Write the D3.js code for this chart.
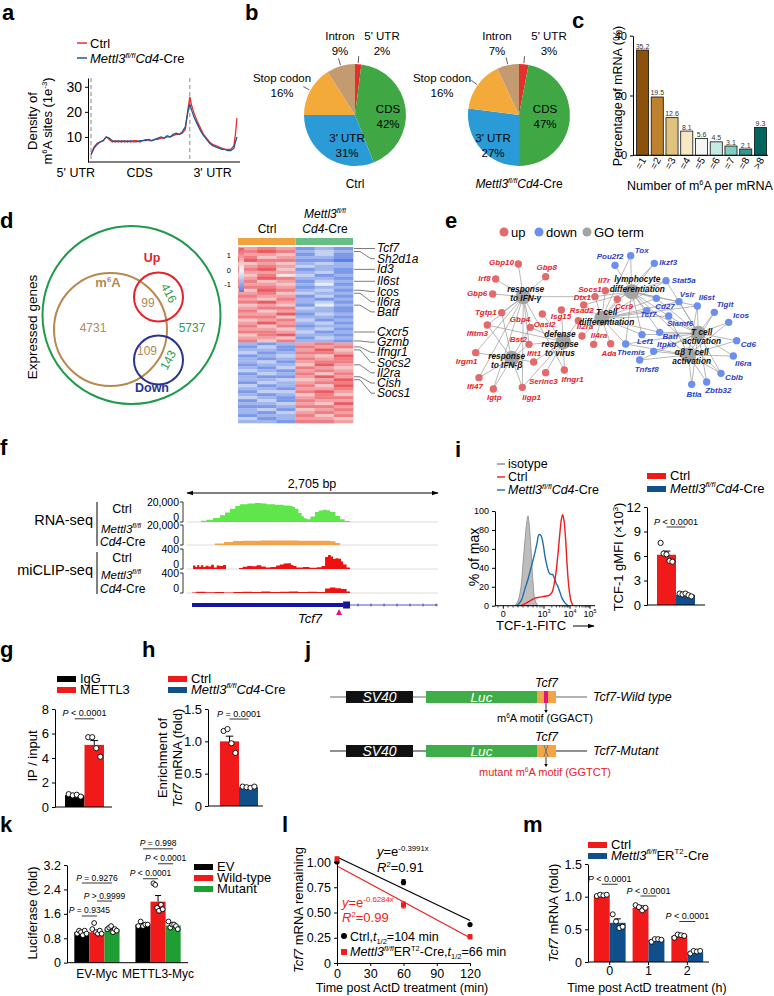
<!DOCTYPE html>
<html>
<head>
<meta charset="utf-8">
<script src="https://cdn.jsdelivr.net/npm/d3@7"></script>
<style>
  body { margin: 0; background: #fff; }
  svg { display: block; }
</style>
</head>
<body>
<script>
// ---------- data ----------
// a: metagene m6A density (1e-3), position in % of metagene
const metaPos = [2,4,6,8,10,12,14,16,18,20,22,24,26,28,30,32,34,36,38,40,42,44,46,48,50,52,54,56,58,60,62,64,66,67,68,70,72,74,76,78,80,82,84,86,88,90,92,94,96,97,98];
const densCtrl = [3,6,7.5,8,8.5,10,9,8,8.5,8,8.5,8,8.5,8,8.5,8.5,8,8.5,9,8.5,8.5,9,9,9.5,9.5,10,10,10.5,11,11,11.5,13,22,26,23,19,16,13.5,11,9.5,8,7,6.5,6,5.5,5,5,5,6.5,11,17.5];
const densKO = [3,5.5,7,8,8.5,10,9.5,8.5,8,8.5,8,8.5,8,8.5,8,8,8.5,8.5,8.5,9,8.5,9,9.5,10,9.5,10.5,10,11,11.5,11,12,14,21,23,21,17.5,15,12.5,10.5,9,7.5,6.5,6,5.5,5,5,4.5,4.5,5.5,8,10];
const metaBounds = [2, 67];
const metaRegions = ["5' UTR", "CDS", "3' UTR"];
const metaRegionAt = [-8, 34, 82];

// b: peak distribution (%)
const pieParts = ["5' UTR", "CDS", "3' UTR", "Stop codon", "Intron"];
const pieCtrl = [2, 42, 31, 16, 9];
const pieKO = [3, 47, 27, 16, 7];

// c: m6A sites per mRNA
const m6aBins = ["=1","=2","=3","=4","=5","=6","=7","=8",">8"];
const m6aPct = [35.2, 19.5, 12.6, 8.1, 5.6, 4.5, 3.1, 2.1, 9.3];

// d: venn counts and heatmap
const vennNums = ["99", "416", "4731", "5737", "109", "143"];
const hmTop = ["787121","898232","776131","867221","988110","676232","787322","896121","777231","685312","798221","867132","776241","887122","698231","786322","877131","768212","897231","676142","788321","867221","779132","886221","678312","797231","868122","776231","887312","689221","776132","868221"];
const hmBottom = ["212787","131878","221796","312887","123769","212878","231788","122697","213876","321787","132868","211797","223679","132788","312869","221778","133897","212686","321788","131877","223769","112887","231678","213787","122868","312776","221887"];
const hmCols = ["C1","C2","C3","K1","K2","K3"];
const hmGenes = ["Tcf7","Sh2d1a","Id3","Il6st","Icos","Il6ra","Batf","Cxcr5","Gzmb","Ifngr1","Socs2","Il2ra","Cish","Socs1"];
const hmGeneRow = [0,1,7,11,14,15,19,28,31,33,34,39,43,44];

// e: GO network (layout units)
const netUp = ["Gbp10","Gbp8","Irf8","Gbp6","Tgtp1","Ifitm3","Irgm1","Ifi47","Igtp","Iigp1","Serinc3","Ifngr1","Ifit1","Bst2","Gbp4","Oasl2","Isg15","Rsad2","Dtx1","Socs1","Il7r","Ccr9","Il2ra","Il4ra","Ada"];
const netUpXY = [[415,222],[497,260],[347,267],[338,312],[365,368],[322,405],[287,488],[297,563],[340,597],[427,592],[497,548],[553,540],[461,516],[447,463],[451,412],[487,372],[544,360],[595,392],[611,345],[645,320],[676,302],[712,328],[606,438],[641,463],[692,461]];
const netUpLab = [[402,226,"end"],[500,240,"middle"],[332,272,"end"],[322,318,"end"],[350,375,"end"],[292,437,"middle"],[260,522,"middle"],[285,597,"middle"],[343,630,"middle"],[455,630,"middle"],[490,583,"middle"],[578,575,"middle"],[462,498,"middle"],[415,455,"middle"],[420,397,"middle"],[494,410,"middle"],[543,387,"middle"],[605,368,"middle"],[607,330,"middle"],[630,305,"middle"],[672,278,"middle"],[732,357,"middle"],[615,417,"middle"],[657,445,"middle"],[687,497,"middle"]];
const netDown = ["Pou2f2","Tox","Ikzf3","Stat5a","Vsir","Cd27","Tcf7","Slamf6","Il6st","Tigit","Icos","Cd6","Il6ra","Cblb","Zbtb32","Btla","Tnfsf8","Themis","Lef1","Itpkb","Batf"];
const netDownXY = [[705,226],[752,197],[823,220],[858,272],[897,335],[829,325],[800,362],[866,378],[952,348],[1003,367],[1046,397],[1070,452],[1060,498],[1023,550],[980,576],[935,583],[779,510],[737,462],[786,434],[821,484],[839,427]];
const netDownLab = [[690,208,"middle"],[785,190,"middle"],[838,226,"start"],[875,278,"start"],[922,320,"middle"],[855,358,"middle"],[805,380,"middle"],[900,408,"middle"],[980,330,"middle"],[1035,350,"middle"],[1083,385,"middle"],[1105,470,"middle"],[1090,527,"middle"],[1062,570,"middle"],[1015,608,"middle"],[942,620,"middle"],[800,545,"middle"],[753,495,"middle"],[796,462,"middle"],[860,470,"middle"],[871,446,"middle"]];
const goTerms = [["response","to IFN-γ"],["response","to IFN-β"],["defense","response","to virus"],["T cell","differentiation"],["lymphocyte","differentiation"],["T cell","activation"],["αβ T cell","activation"]];
const goXY = [[430,320],[395,505],[550,455],[665,385],[755,305],[955,430],[925,495]];
const goLab = [[437,305],[380,507],[540,442],[680,376],[772,277],[965,435],[935,495]];
const goEdges = [
  ["Gbp10","Gbp8","Irf8","Gbp6","Tgtp1","Ifitm3","Gbp4","Irgm1","Igtp","Iigp1","Ifi47","Socs1","Ifngr1","Bst2"],
  ["Irgm1","Ifi47","Igtp","Iigp1","Ifit1","Bst2","Ifitm3","Tgtp1","Gbp4"],
  ["Isg15","Oasl2","Rsad2","Bst2","Ifit1","Serinc3","Ifngr1","Ifitm3","Gbp4","Iigp1"],
  ["Socs1","Dtx1","Il7r","Ccr9","Il2ra","Il4ra","Ada","Tcf7","Cd27","Lef1","Themis","Batf","Stat5a","Vsir","Slamf6","Il6st","Tox","Ikzf3"],
  ["Pou2f2","Tox","Ikzf3","Stat5a","Vsir","Cd27","Tcf7","Il7r","Socs1","Dtx1","Ccr9","Lef1","Themis","Batf","Il6st","Slamf6","Cblb"],
  ["Il6st","Tigit","Icos","Cd6","Il6ra","Cblb","Zbtb32","Btla","Vsir","Slamf6","Itpkb","Batf","Tcf7","Cd27","Lef1","Themis","Stat5a","Tnfsf8"],
  ["Btla","Zbtb32","Cblb","Il6ra","Itpkb","Tnfsf8","Slamf6","Batf","Icos","Cd6","Il6st","Tigit","Themis"]
];

// f: tracks (bp, coverage)
const rnaCtrlPos = [86,150,212,280,356,410,464,520,572,650,733,800,859,950,1040,1110,1140,1164,1200,1236,1260,1290,1330,1380,1420,1463,1500,1542,1600,1649,1700,1757];
const rnaCtrlVal = [0,1200,2300,4000,6700,9500,13300,16000,17700,18500,19000,18500,17700,17200,16500,16000,15000,13300,9000,5700,3800,2700,5500,10000,11500,12300,11800,10000,6000,2700,1000,0];
const rnaKOPos = [212,300,400,497,600,800,1000,1200,1400,1542,1600,1649];
const rnaKOVal = [0,1500,3000,4000,4300,4400,4400,4300,4200,3800,2000,0];
const clipCtrlPos = [55,65,90,110,130,150,175,200,230,260,290,320,350,388,420,560,600,650,700,750,800,850,900,960,1000,1040,1080,1120,1146,1180,1250,1320,1400,1450,1488,1520,1550,1574,1600,1630,1660,1682,1720,1757];
const clipCtrlVal = [0,70,40,80,45,75,40,65,50,85,30,70,60,80,0,20,45,60,55,75,50,30,40,70,90,110,115,80,60,30,40,25,35,60,240,280,250,200,215,205,150,90,30,0];
const clipKOPos = [55,100,200,300,400,500,600,700,800,900,1000,1100,1200,1300,1400,1488,1540,1600,1660,1720,1757];
const clipKOVal = [10,25,15,20,10,20,25,20,30,20,25,30,20,25,20,90,110,95,80,30,0];
const geneBp = [54, 1682, 1757, 2705];
const motifBp = 1639;

// i: flow histogram (axis units) and gMFI
const facsIsoX = [20,23,26,28,30,32,33,34,36,38,40,43];
const facsIsoY = [0,5,20,45,70,90,95,88,60,25,6,0];
const facsKOX = [22,26,30,33,36,39,42,44,46,48,50,52,54,56,57.5,59,61,63,65,67,70,73];
const facsKOY = [0,5,18,28,40,52,66,75,74,66,52,42,35,33,33,30,24,20,14,8,3,0];
const facsCtrlX = [26,30,35,40,45,50,54,57,59,61,63,65,66.5,67.7,69,70.5,72,74,76,78];
const facsCtrlY = [0,2,5,8,9,10,11,14,22,35,55,78,92,96,90,72,45,18,5,0];
const facsTicks = [8.3, 49, 75, 95];
const facsMinor = [3, 13, 18, 23, 28, 33, 38, 42, 45, 47, 56.8, 61.4, 64.7, 67.2, 69.2, 71, 72.5, 73.8, 81, 84.5, 87, 89, 90.6, 91.9, 93.1, 94.1];
const mfiMean = [[6.15, 1.25]];
const mfiErr = [[0.45, 0.08]];
const mfiPts = [[[7.6, 6.3, 6.2, 5.4, 5.3], [1.4, 1.3, 1.4, 1.2, 1.05]]];

// g, h
const ipMean = [[0.96, 5.07]];
const ipErr = [[0.05, 0.35]];
const ipPts = [[[1.05, 0.95, 1.0, 0.85], [5.7, 5.7, 4.8, 4.1]]];
const enrMean = [[1.0, 0.29]];
const enrErr = [[0.08, 0.01]];
const enrPts = [[[1.16, 1.19, 0.97, 0.82], [0.30, 0.29, 0.28, 0.30]]];

// j: reporter schematic (schematic units)
const jParts = ["SV40", "Luc", "Tcf7"];
const jStart = [16, 96, 207];
const jEnd = [83, 207, 226];
const jMotif = 216;

// k: luciferase
const lucGroups = ["EV-Myc", "METTL3-Myc"];
const lucSeries = ["EV", "Wild-type", "Mutant"];
const lucMean = [[1.0, 1.0, 1.1], [1.25, 2.0, 1.22]];
const lucErr = [[0.05, 0.06, 0.05], [0.04, 0.2, 0.05]];
const lucPts = [[[0.95,1.05,1.0,0.9,1.05,0.95],[1.1,1.3,1.0,0.95,1.05,0.95],[1.1,1.15,1.2,1.0,1.1,1.05]],
                [[1.2,1.35,1.2,1.25,1.25],[2.6,2.55,1.8,1.7,1.9,1.75],[1.35,1.15,1.25,1.25,1.2,1.1]]];
const lucSig = [[0, 2, 2.61, "=", "0.9276"], [1, 2, 2.02, ">", "0.9999"], [0, 1, 1.53, "=", "0.9345"],
                [0, 2, 3.73, "=", "0.998"], [1, 2, 3.24, "<", "0.0001"], [0, 1, 2.75, "<", "0.0001"]];

// l: decay
const decT = [0, 60, 120];
const decCtrl = [1.0, 0.80, 0.38];
const decCtrlErr = [0.01, 0.025, 0.01];
const decKO = [1.03, 0.575, 0.26];
const decKOErr = [0.02, 0.03, 0.02];
const fitT = [0, 120];
const fitCtrl = [1.05, 0.42];
const fitKO = [0.96, 0.25];

// m
const mHours = ["0", "1", "2"];
const mMean = [[1.02, 0.60], [0.83, 0.34], [0.40, 0.15]];
const mErr = [[0.01, 0.06], [0.03, 0.01], [0.01, 0.01]];
const mPts = [[[1.01,1.03,1.02,1.03],[0.73,0.62,0.52,0.54]],[[0.87,0.84,0.79,0.83],[0.31,0.35,0.35,0.34]],[[0.37,0.42,0.41,0.40],[0.13,0.17,0.16,0.17]]];
const mSigY = [1.19, 1.01, 0.62];

// ---------- helpers ----------
const FONT = '"Liberation Sans", Arial, Helvetica, sans-serif';
const RED = "#f01a1a", NAVY = "#0f4f8c", KGREEN = "#1e9e33";
const svg = d3.select("body").append("svg").attr("width", 774).attr("height", 996)
  .attr("font-family", FONT).style("background", "#fff");
svg.append("rect").attr("width", 774).attr("height", 996).attr("fill", "#fff");

const KO_CD4 = [{t:"Mettl3", i:1}, {t:"fl/fl", sup:1, i:1}, {t:"Cd4", i:1}, "-Cre"];
const KO_ER = [{t:"Mettl3", i:1}, {t:"fl/fl", sup:1, i:1}, "ER", {t:"T2", sup:1}, "-Cre"];

function rich(parent, x, y, segs, size, anchor, fill) {
  const t = parent.append("text").attr("x", x).attr("y", y).attr("font-size", size)
    .attr("text-anchor", anchor || "start");
  if (fill) t.attr("fill", fill);
  let shift = 0;
  segs.forEach(s => {
    if (typeof s === "string") s = {t: s};
    const target = s.sup ? -size * 0.4 : s.sub ? size * 0.25 : 0;
    const sp = t.append("tspan").text(s.t);
    if (target !== shift) { sp.attr("dy", target - shift); shift = target; }
    if (s.sup || s.sub) sp.attr("font-size", size * 0.6);
    if (s.i) sp.attr("font-style", "italic");
    if (s.b) sp.attr("font-weight", "bold");
    if (s.fill) sp.attr("fill", s.fill);
  });
  return t;
}
function vlabel(x, y, segs, size) {
  const g = svg.append("g").attr("transform", `translate(${x},${y}) rotate(-90)`);
  return rich(g, 0, 0, segs, size, "middle");
}
function letter(ch, x, y) {
  svg.append("text").attr("x", x).attr("y", y).attr("font-size", 22).attr("font-weight", "bold").text(ch);
}
function yAxis(x, scale, ticks, fmt, fs) {
  const g = svg.append("g").attr("transform", `translate(${x},0)`)
    .call(d3.axisLeft(scale).tickValues(ticks).tickFormat(fmt || (d => d)).tickSize(3).tickSizeOuter(0));
  g.attr("font-family", FONT).attr("font-size", fs || 12);
  g.selectAll("text").attr("fill", "#000");
  g.selectAll("line,path").attr("stroke", "#000");
  return g;
}
function hline(x1, x2, y, color, w) {
  return svg.append("line").attr("x1", x1).attr("x2", x2).attr("y1", y).attr("y2", y)
    .attr("stroke", color || "#000").attr("stroke-width", w || 1);
}
function legendRect(x, y, color, segs, fs) {
  svg.append("rect").attr("x", x).attr("y", y).attr("width", 19).attr("height", 6).attr("fill", color);
  rich(svg, x + 23, y + 6.5, segs, fs || 13);
}
function sig(xa, xb, y, rel, val, fs) {
  hline(xa, xb, y, "#000", 0.8);
  rich(svg, (xa + xb) / 2, y - 2.5, [{t:"P", i:1}, ` ${rel} ${val}`], fs || 9, "middle");
}
function dotBars(o) {
  const xo = d3.scaleBand().domain(o.groups).range(o.range).paddingInner(o.pi || 0).paddingOuter(o.po || 0);
  const xi = d3.scaleBand().domain(o.series).range([0, xo.bandwidth()]);
  const w = xi.bandwidth();
  const centers = [];
  o.groups.forEach((gr, gi) => {
    centers.push([]);
    o.series.forEach((s, si) => {
      const x0 = xo(gr) + xi(s), cx = x0 + w / 2, m = o.mean[gi][si], e = o.err[gi][si];
      centers[gi].push(cx);
      svg.append("rect").attr("x", x0).attr("y", o.y(m)).attr("width", w)
        .attr("height", o.y(0) - o.y(m)).attr("fill", o.colors[si]);
      svg.append("line").attr("x1", cx).attr("x2", cx).attr("y1", o.y(m)).attr("y2", o.y(m + e)).attr("stroke", "#000");
      hline(cx - w * 0.2, cx + w * 0.2, o.y(m + e));
      const p = o.pts[gi][si], n = p.length, span = w * 0.62;
      p.forEach((v, k) => {
        const off = n > 1 ? -span / 2 + span * k / (n - 1) : 0;
        svg.append("circle").attr("cx", cx + off).attr("cy", o.y(v)).attr("r", o.r || 2.6)
          .attr("fill", "#fff").attr("stroke", "#000").attr("stroke-width", 0.9);
      });
    });
  });
  return {centers, xo};
}

// ---------- a ----------
{
  letter("a", 2, 20);
  const x = d3.scaleLinear().domain([0, 100]).range([88, 240]);
  const y = d3.scaleLinear().domain([0, 33.5]).range([162, 78]);
  metaBounds.forEach(v => svg.append("line").attr("x1", x(v)).attr("x2", x(v)).attr("y1", y(33.5)).attr("y2", y(0))
    .attr("stroke", "#888").attr("stroke-dasharray", "4,3"));
  yAxis(x(0), y, [10, 20, 30], null, 14);
  hline(x(0), x(100), y(0));
  const line = d3.line().x((d, i) => x(metaPos[i])).y(d => y(d));
  svg.append("path").datum(densCtrl).attr("d", line).attr("fill", "none").attr("stroke", "#ee2b2b").attr("stroke-width", 1.3);
  svg.append("path").datum(densKO).attr("d", line).attr("fill", "none").attr("stroke", "#1d5a97").attr("stroke-width", 1.3);
  metaRegions.forEach((r, i) => svg.append("text").attr("x", x(metaRegionAt[i])).attr("y", 177)
    .attr("text-anchor", "middle").attr("font-size", 12.5).text(r));
  const gl = svg.append("g").attr("transform", "translate(37,121) rotate(-90)");
  rich(gl, 0, 0, ["Density of"], 13, "middle");
  rich(gl, 0, 15, [{t:"m"}, {t:"6", sup:1}, "A sites (1e", {t:"-3", sup:1}, ")"], 13, "middle");
  hline(77, 87, 43, "#ee2b2b", 1.5); rich(svg, 90, 48, ["Ctrl"], 13);
  hline(77, 87, 58, "#1d5a97", 1.5); rich(svg, 90, 63, KO_CD4, 13);
}

// ---------- b ----------
{
  letter("b", 245, 20);
  const R = 51;
  const pieColors = ["#e3302d", "#3fa845", "#2b9bd8", "#f4a93b", "#c49b71"];
  const offs = [[[27,-75],[33,-2],[-8,27],[-73,-33],[-15,-75]], [[30,-75],[26,-2],[-26,27],[-77,-33],[-22,-75]]];
  const arc = d3.arc().innerRadius(0).outerRadius(R);
  const pie = d3.pie().sort(null).value(d => d);
  [[pieCtrl, 355, ["Ctrl"]], [pieKO, 519, KO_CD4]].forEach(([vals, cx, cap], pi) => {
    const cy = 115;
    const g = svg.append("g").attr("transform", `translate(${cx},${cy})`);
    const arcs = pie(vals);
    g.selectAll("path").data(arcs).join("path").attr("d", arc).attr("fill", (d, i) => pieColors[i]);
    arcs.forEach((a, i) => {
      const [dx, dy] = offs[pi][i];
      rich(svg, cx + dx, cy + dy, [pieParts[i]], 11.5, "middle");
      rich(svg, cx + dx, cy + dy + 15, [vals[i] + "%"], 11.5, "middle");
      if (i === 0 || i === 3 || i === 4) {
        const ang = (a.startAngle + a.endAngle) / 2;
        g.append("line").attr("x1", Math.sin(ang) * (R + 1)).attr("y1", -Math.cos(ang) * (R + 1))
          .attr("x2", Math.sin(ang) * (R + 8)).attr("y2", -Math.cos(ang) * (R + 8)).attr("stroke", "#333").attr("stroke-width", 0.8);
      }
    });
    rich(svg, cx, 188, cap, 12, "middle");
  });
}

// ---------- c ----------
{
  letter("c", 572, 28);
  const x = d3.scaleBand().domain(m6aBins).range([635, 768]).paddingInner(0.18).paddingOuter(0.1);
  const y = d3.scaleLinear().domain([0, 40]).range([155.3, 35.7]);
  const cols = ["#8c510a", "#bf812d", "#dfc27d", "#f6e8c3", "#f5f5f5", "#c7eae5", "#80cdc1", "#35978f", "#01665e"];
  svg.selectAll(".cbar").data(m6aPct).join("rect").attr("class", "cbar")
    .attr("x", (d, i) => x(m6aBins[i])).attr("y", d => y(d)).attr("width", x.bandwidth())
    .attr("height", d => y(0) - y(d)).attr("fill", (d, i) => cols[i]).attr("stroke", "#111").attr("stroke-width", 0.8);
  m6aPct.forEach((v, i) => svg.append("text").attr("x", x(m6aBins[i]) + x.bandwidth() / 2).attr("y", y(v) - 1.5)
    .attr("text-anchor", "middle").attr("font-size", 7).attr("fill", "#333").text(v.toFixed(1)));
  yAxis(633, y, [0, 20, 40], null, 11);
  hline(633, 768, y(0));
  m6aBins.forEach(b => svg.append("text").attr("transform", `translate(${x(b) + x.bandwidth() / 2 + 4},${160}) rotate(-60)`)
    .attr("text-anchor", "end").attr("font-size", 10).text(b));
  rich(svg, 700, 190, ["Number of m", {t:"6", sup:1}, "A per mRNA"], 12.5, "middle");
  vlabel(622, 96, ["Percentage of mRNA (%)"], 12.5);
}

// ---------- d ----------
{
  letter("d", 0, 228);
  const vg = svg.append("g").attr("fill", "none").attr("stroke-width", 2);
  vg.append("circle").attr("cx", 131.5).attr("cy", 315).attr("r", 89).attr("stroke", "#1f9a4a");
  vg.append("circle").attr("cx", 110.5).attr("cy", 329.5).attr("r", 56.5).attr("stroke", "#b8894f");
  vg.append("circle").attr("cx", 158.5).attr("cy", 297).attr("r", 24.5).attr("stroke", "#e8202a");
  vg.append("circle").attr("cx", 158.5).attr("cy", 360).attr("r", 24.5).attr("stroke", "#2a3590");
  const tan = "#b08a57", grn = "#2e9a55";
  rich(svg, 152, 262, [{t:"Up", b:1}], 12.5, "middle", "#e8202a");
  rich(svg, 152, 392, [{t:"Down", b:1}], 12.5, "middle", "#2a3590");
  rich(svg, 108, 287, [{t:"m", b:1}, {t:"6", sup:1, b:1}, {t:"A", b:1}], 13, "middle", tan);
  rich(svg, 148, 307, [vennNums[0]], 12, "middle", tan);
  svg.append("text").attr("transform", "translate(169,293) rotate(62)").attr("text-anchor", "middle").attr("dy", "0.35em")
    .attr("font-size", 12).attr("fill", grn).text(vennNums[1]);
  rich(svg, 93, 332, [vennNums[2]], 12, "middle", tan);
  rich(svg, 192, 332, [vennNums[3]], 12, "middle", grn);
  rich(svg, 147, 355, [vennNums[4]], 12, "middle", tan);
  svg.append("text").attr("transform", "translate(168,360) rotate(-62)").attr("text-anchor", "middle").attr("dy", "0.35em")
    .attr("font-size", 12).attr("fill", grn).text(vennNums[5]);
  vlabel(37, 327, ["Expressed genes"], 13.5);

  // heatmap
  const rows = hmTop.concat(hmBottom);
  const hx = d3.scaleBand().domain(hmCols).range([238, 353]);
  const hy = d3.scaleBand().domain(d3.range(rows.length)).range([247, 423]);
  const col = d3.scaleLinear().domain([-1.5, 0, 1.5]).range(["#5a7fe4", "#f8f8f8", "#ec5b62"]);
  rows.forEach((r, ri) => hmCols.forEach((c, ci) => {
    svg.append("rect").attr("x", hx(c)).attr("y", hy(ri)).attr("width", hx.bandwidth() + 0.3).attr("height", hy.bandwidth() + 0.3)
      .attr("fill", col((+r[ci] - 4.5) / 3));
  }));
  svg.append("rect").attr("x", 238).attr("y", 238).attr("width", 57.5).attr("height", 7).attr("fill", "#f2a23c");
  svg.append("rect").attr("x", 295.5).attr("y", 238).attr("width", 57.5).attr("height", 7).attr("fill", "#68bf86");
  rich(svg, 267, 233, ["Ctrl"], 12, "middle");
  rich(svg, 325, 218, [{t:"Mettl3", i:1}, {t:"fl/fl", sup:1, i:1}], 12, "middle");
  rich(svg, 325, 233, [{t:"Cd4", i:1}, "-Cre"], 12, "middle");
  // colour key
  const grad = svg.append("defs").append("linearGradient").attr("id", "hmk").attr("x1", 0).attr("x2", 0).attr("y1", 0).attr("y2", 1);
  grad.append("stop").attr("offset", "0%").attr("stop-color", "#ec5b62");
  grad.append("stop").attr("offset", "50%").attr("stop-color", "#f8f8f8");
  grad.append("stop").attr("offset", "100%").attr("stop-color", "#5a7fe4");
  const ky = d3.scaleLinear().domain([1.5, -1.5]).range([248, 292]);
  svg.append("rect").attr("x", 239).attr("y", 248).attr("width", 5).attr("height", 44).attr("fill", "url(#hmk)");
  [1, 0, -1].forEach(v => svg.append("text").attr("x", 231).attr("y", ky(v)).attr("dy", "0.35em")
    .attr("text-anchor", "end").attr("font-size", 7.5).text(v));
  // gene labels with leaders
  let prev = -1e9;
  hmGenes.forEach((gname, i) => {
    const ry = hy(hmGeneRow[i]) + hy.bandwidth() / 2;
    const ly = Math.max(ry, prev + 10.2);
    prev = ly;
    svg.append("path").attr("d", `M354,${ry}H360L371,${ly}H375`).attr("fill", "none").attr("stroke", "#222").attr("stroke-width", 0.6);
    rich(svg, 377, ly + 4, [{t:gname, i:1}], 12);
  });
}

// ---------- e ----------
{
  letter("e", 445, 228);
  const ex = d3.scaleLinear().domain([0, 1182]).range([380, 774]);
  const ey = d3.scaleLinear().domain([0, 750]).range([190, 440]);
  const pos = {};
  netUp.forEach((n, i) => pos[n] = netUpXY[i]);
  netDown.forEach((n, i) => pos[n] = netDownXY[i]);
  const eg = svg.append("g");
  goEdges.forEach((list, gi) => list.forEach(n => {
    eg.append("line").attr("x1", ex(goXY[gi][0])).attr("y1", ey(goXY[gi][1]))
      .attr("x2", ex(pos[n][0])).attr("y2", ey(pos[n][1])).attr("stroke", "#999").attr("stroke-width", 0.7);
  }));
  const upDot = "#e26a6b", downDot = "#6b8ff0";
  netUpXY.forEach(p => svg.append("circle").attr("cx", ex(p[0])).attr("cy", ey(p[1])).attr("r", 3.7).attr("fill", upDot));
  netDownXY.forEach(p => svg.append("circle").attr("cx", ex(p[0])).attr("cy", ey(p[1])).attr("r", 3.7).attr("fill", downDot));
  goXY.forEach(p => svg.append("circle").attr("cx", ex(p[0])).attr("cy", ey(p[1])).attr("r", 7.5).attr("fill", "#a3a3a3"));
  const lab = (txt, l, fill) => svg.append("text").attr("x", ex(l[0])).attr("y", ey(l[1])).attr("text-anchor", l[2])
    .attr("font-size", 8).attr("font-weight", "bold").attr("font-style", "italic").attr("fill", fill).text(txt);
  netUp.forEach((n, i) => lab(n, netUpLab[i], "#e3242b"));
  netDown.forEach((n, i) => lab(n, netDownLab[i], "#2b3fc4"));
  goTerms.forEach((lines, gi) => lines.forEach((t, k) => svg.append("text").attr("x", ex(goLab[gi][0]))
    .attr("y", ey(goLab[gi][1]) + k * 9.3).attr("text-anchor", "middle").attr("font-size", 8.3)
    .attr("font-weight", "bold").attr("font-style", "italic").attr("fill", "#111").text(t)));
  // legend
  [[504, upDot, "up"], [539, downDot, "down"], [587, "#a3a3a3", "GO term"]].forEach(([x, c, t]) => {
    svg.append("circle").attr("cx", x).attr("cy", 232).attr("r", 4.5).attr("fill", c);
    svg.append("text").attr("x", x + 7).attr("y", 236.5).attr("font-size", 13).text(t);
  });
}

// ---------- f ----------
{
  letter("f", 0, 455);
  const x = d3.scaleLinear().domain([0, 2705]).range([187, 438]);
  const defs = svg.append("defs");
  defs.append("marker").attr("id", "arr").attr("viewBox", "0 0 10 10").attr("refX", 9).attr("refY", 5)
    .attr("markerWidth", 7).attr("markerHeight", 7).attr("orient", "auto-start-reverse")
    .append("path").attr("d", "M0,1.5L10,5L0,8.5Z").attr("fill", "#000");
  svg.append("line").attr("x1", x(0)).attr("x2", x(2705)).attr("y1", 493).attr("y2", 493).attr("stroke", "#000")
    .attr("marker-start", "url(#arr)").attr("marker-end", "url(#arr)");
  rich(svg, 312, 488, ["2,705 bp"], 12.5, "middle");
  const tracks = [
    [rnaCtrlPos, rnaCtrlVal, 20000, 522, "#5fe64a", "20,000"],
    [rnaKOPos, rnaKOVal, 20000, 545, "#f4a24c", "20,000"],
    [clipCtrlPos, clipCtrlVal, 400, 569, "#f01010", "400"],
    [clipKOPos, clipKOVal, 400, 593, "#f01010", "400"]
  ];
  tracks.forEach(([p, v, max, base, color, lbl]) => {
    const y = d3.scaleLinear().domain([0, max]).range([base, base - 20]);
    hline(x(0), x(2705), base, "#dcdcdc", 1);
    const area = d3.area().x((d, i) => x(p[i])).y0(y(0)).y1(d => y(d)).curve(d3.curveStepAfter);
    svg.append("path").datum(v).attr("d", area).attr("fill", color);
    svg.append("path").attr("d", `M180,${y(max)}H183V${y(0)}H180`).attr("fill", "none").attr("stroke", "#000").attr("stroke-width", 0.8);
    rich(svg, 179, y(max) + 4, [lbl], 10.5, "end");
    rich(svg, 179, y(0) - 1, ["0"], 10.5, "end");
  });
  // left labels
  rich(svg, 93, 525, ["RNA-seq"], 14.5, "end");
  rich(svg, 93, 575, ["miCLIP-seq"], 14.5, "end");
  svg.append("line").attr("x1", 97).attr("x2", 97).attr("y1", 502).attr("y2", 546).attr("stroke", "#000");
  svg.append("line").attr("x1", 97).attr("x2", 97).attr("y1", 552).attr("y2", 594).attr("stroke", "#000");
  [[513, 533, 546], [562, 579, 593]].forEach(([a, b, c]) => {
    rich(svg, 122, a, ["Ctrl"], 12.5, "middle");
    rich(svg, 101, b, [{t:"Mettl3", i:1}, {t:"fl/fl", sup:1, i:1}], 11.5);
    rich(svg, 100, c, [{t:"Cd4", i:1}, "-Cre"], 12);
  });
  // gene model
  svg.append("rect").attr("x", x(geneBp[0])).attr("y", 603).attr("width", x(geneBp[1]) - x(geneBp[0])).attr("height", 4).attr("fill", "#1515a0");
  svg.append("rect").attr("x", x(geneBp[1])).attr("y", 601.5).attr("width", x(geneBp[2]) - x(geneBp[1])).attr("height", 7).attr("fill", "#1515a0");
  hline(x(geneBp[2]), x(geneBp[3]), 605, "#2a2ab0", 0.8);
  d3.range(x(geneBp[2]) + 8, x(geneBp[3]), 13).forEach(px => svg.append("line").attr("x1", px).attr("x2", px)
    .attr("y1", 603.5).attr("y2", 606.5).attr("stroke", "#2a2ab0").attr("stroke-width", 0.8));
  const tx = x(motifBp);
  svg.append("path").attr("d", `M${tx},609L${tx + 3},615L${tx - 3},615Z`).attr("fill", "#e0147a");
  rich(svg, 310, 623, [{t:"Tcf7", i:1}], 13, "middle");
}

// ---------- i ----------
{
  letter("i", 455, 457);
  const x = d3.scaleLinear().domain([0, 100]).range([495, 595]);
  const y = d3.scaleLinear().domain([0, 100]).range([605.7, 511]);
  const ln = (xs) => d3.line().x((d, i) => x(xs[i])).y(d => y(d)).curve(d3.curveCatmullRom);
  const ar = d3.area().x((d, i) => x(facsIsoX[i])).y0(y(0)).y1(d => y(d)).curve(d3.curveCatmullRom);
  svg.append("path").datum(facsIsoY).attr("d", ar).attr("fill", "#bdbdbd").attr("stroke", "#8a8a8a").attr("stroke-width", 0.8);
  svg.append("path").datum(facsKOY).attr("d", ln(facsKOX)).attr("fill", "none").attr("stroke", "#1f6eaa").attr("stroke-width", 1.4);
  svg.append("path").datum(facsCtrlY).attr("d", ln(facsCtrlX)).attr("fill", "none").attr("stroke", "#f01c1c").attr("stroke-width", 1.4);
  yAxis(495, y, [0, 20, 40, 60, 80, 100], null, 9);
  hline(495, 595, y(0));
  facsTicks.forEach(t => svg.append("line").attr("x1", x(t)).attr("x2", x(t)).attr("y1", y(0)).attr("y2", y(0) + 3).attr("stroke", "#000"));
  facsMinor.forEach(t => svg.append("line").attr("x1", x(t)).attr("x2", x(t)).attr("y1", y(0)).attr("y2", y(0) + 1.8).attr("stroke", "#000").attr("stroke-width", 0.7));
  const tl = [["0"], ["10", {t:"3", sup:1}], ["10", {t:"4", sup:1}], ["10", {t:"5", sup:1}]];
  facsTicks.forEach((t, k) => rich(svg, x(t), 617, tl[k], 9, "middle"));
  rich(svg, 496, 630, ["TCF-1-FITC"], 13);
  svg.append("line").attr("x1", 573).attr("x2", 594).attr("y1", 626).attr("y2", 626).attr("stroke", "#000").attr("marker-end", "url(#arr)");
  vlabel(479, 557, ["% of max"], 14);
  hline(497, 505, 464, "#8a8a8a", 1.4); rich(svg, 508, 468, ["isotype"], 12.5);
  hline(497, 505, 477, "#f01c1c", 1.4); rich(svg, 508, 481, ["Ctrl"], 12.5);
  hline(497, 505, 490, "#1f6eaa", 1.4); rich(svg, 508, 494, KO_CD4, 12.5);

  const yb = d3.scaleLinear().domain([0, 12]).range([605, 507]);
  const r = dotBars({groups:["i"], series:["Ctrl","KO"], range:[657, 695], y:yb, mean:mfiMean, err:mfiErr, pts:mfiPts, colors:[RED, NAVY]});
  yAxis(647, yb, [0, 3, 6, 9, 12], null, 13);
  hline(647, 705, yb(0));
  sig(r.centers[0][0], r.centers[0][1], yb(9.55), "<", "0.0001", 9);
  vlabel(623, 557, ["TCF-1 gMFI (×10", {t:"3", sup:1}, ")"], 13);
  legendRect(647, 473, RED, ["Ctrl"], 13);
  legendRect(647, 486, NAVY, KO_CD4, 13);
}

// ---------- g ----------
{
  letter("g", 0, 657);
  const y = d3.scaleLinear().domain([0, 8]).range([807, 709]);
  const r = dotBars({groups:["g"], series:["IgG","METTL3"], range:[65, 104], y, mean:ipMean, err:ipErr, pts:ipPts, colors:["#000", RED]});
  yAxis(55, y, [0, 2, 4, 6, 8], null, 13);
  hline(55, 112, y(0));
  sig(r.centers[0][0], r.centers[0][1], y(7.2), "<", "0.0001", 9);
  vlabel(37, 756, ["IP / input"], 13);
  legendRect(57, 676, "#000", ["IgG"], 13);
  legendRect(57, 687, RED, ["METTL3"], 13);
}

// ---------- h ----------
{
  letter("h", 142, 657);
  const y = d3.scaleLinear().domain([0, 1.5]).range([806, 709]);
  const r = dotBars({groups:["h"], series:["Ctrl","KO"], range:[220, 258], y, mean:enrMean, err:enrErr, pts:enrPts, colors:[RED, NAVY]});
  yAxis(208, y, [0, 0.5, 1.0, 1.5], d => d === 0 ? "0" : d.toFixed(1), 13);
  hline(208, 263, y(0));
  sig(r.centers[0][0], r.centers[0][1], y(1.345), "=", "0.0001", 9);
  const gl = svg.append("g").attr("transform", "translate(167,758) rotate(-90)");
  rich(gl, 0, 0, ["Enrichment of"], 13, "middle");
  rich(gl, 0, 15, [{t:"Tcf7", i:1}, " mRNA (fold)"], 13, "middle");
  legendRect(168, 676, RED, ["Ctrl"], 13);
  legendRect(168, 687, NAVY, KO_CD4, 13);
}

// ---------- j ----------
{
  letter("j", 305, 657);
  const jx = d3.scaleLinear().domain([0, 257]).range([330, 587]);
  const fills = ["#111", "#3fae49", "#f3a443"];
  [[697, "Wild type"], [751, "Mutant"]].forEach(([cy, kind], k) => {
    hline(jx(0), jx(257), cy, k === 0 ? "#666" : "#222", 1.2);
    jParts.forEach((p, i) => {
      svg.append("rect").attr("x", jx(jStart[i])).attr("y", cy - 6).attr("width", jx(jEnd[i]) - jx(jStart[i])).attr("height", 12).attr("fill", fills[i]);
      if (i < 2) rich(svg, (jx(jStart[i]) + jx(jEnd[i])) / 2, cy + 5, [{t:p, i:1}], i === 0 ? 14 : 13.5, "middle", "#fff");
    });
    const mx = jx(jMotif);
    rich(svg, (jx(jStart[2]) + jx(jEnd[2])) / 2, cy - 10, [{t:"Tcf7", i:1}], 12.5, "middle");
    if (k === 0) {
      svg.append("rect").attr("x", mx - 2).attr("y", cy - 6).attr("width", 4).attr("height", 12).attr("fill", "#e0147a");
    } else {
      svg.append("path").attr("d", `M${mx - 2},${cy - 6}L${mx + 2},${cy + 6}M${mx + 2},${cy - 6}L${mx - 2},${cy + 6}`)
        .attr("stroke", "#777").attr("stroke-width", 1);
    }
    svg.append("line").attr("x1", mx).attr("x2", mx).attr("y1", cy + 6).attr("y2", cy + 15).attr("stroke", "#000").attr("stroke-width", 0.8);
    svg.append("path").attr("d", `M${mx - 1.8},${cy + 13}L${mx + 1.8},${cy + 13}L${mx},${cy + 16}Z`).attr("fill", "#000");
    rich(svg, 593, cy + 4, [{t:"Tcf7-" + kind, i:1}], 12.5);
  });
  rich(svg, 545, 722, ["m", {t:"6", sup:1}, "A motif (GGACT)"], 11, "middle");
  rich(svg, 545, 776, ["mutant m", {t:"6", sup:1}, "A motif (GGTCT)"], 11, "middle", "#e8202a");
}

// ---------- k ----------
{
  letter("k", 0, 832);
  const y = d3.scaleLinear().domain([0, 3.2]).range([962.7, 865]);
  const r = dotBars({groups:lucGroups, series:lucSeries, range:[67, 188], pi:0.26, po:0.12, y, mean:lucMean, err:lucErr, pts:lucPts, colors:["#000", RED, KGREEN], r:2.4});
  yAxis(67, y, [0, 0.8, 1.6, 2.4, 3.2], d => d === 0 ? "0" : d.toFixed(1), 12.5);
  hline(67, 188, y(0));
  lucSig.forEach(([a, b, lv, rel, val], k) => {
    const gi = k < 3 ? 0 : 1;
    sig(r.centers[gi][a], r.centers[gi][b], y(lv), rel, val, 8.5);
  });
  lucGroups.forEach((gname, gi) => rich(svg, r.xo(gname) + r.xo.bandwidth() / 2, 978, [gname], 12, "middle"));
  vlabel(37, 913, ["Luciferase (fold)"], 13);
  legendRect(194, 864, "#000", ["EV"], 13);
  legendRect(194, 875, RED, ["Wild-type"], 13);
  legendRect(194, 886, KGREEN, ["Mutant"], 13);
}

// ---------- l ----------
{
  letter("l", 282, 832);
  const x = d3.scaleLinear().domain([0, 120]).range([337, 470]);
  const y = d3.scaleLinear().domain([0, 1]).range([963, 862]);
  const fl = d3.line().x((d, i) => x(fitT[i])).y(d => y(d));
  svg.append("path").datum(fitCtrl).attr("d", fl).attr("stroke", "#000").attr("stroke-width", 1.2).attr("fill", "none");
  svg.append("path").datum(fitKO).attr("d", fl).attr("stroke", "#f01c1c").attr("stroke-width", 1.2).attr("fill", "none");
  const errs = (vals, e, c) => vals.forEach((v, i) => {
    svg.append("line").attr("x1", x(decT[i])).attr("x2", x(decT[i])).attr("y1", y(v - e[i])).attr("y2", y(v + e[i])).attr("stroke", c);
    hline(x(decT[i]) - 2, x(decT[i]) + 2, y(v - e[i]), c); hline(x(decT[i]) - 2, x(decT[i]) + 2, y(v + e[i]), c);
  });
  errs(decCtrl, decCtrlErr, "#000"); errs(decKO, decKOErr, "#f01c1c");
  decCtrl.forEach((v, i) => svg.append("circle").attr("cx", x(decT[i])).attr("cy", y(v)).attr("r", 2.6).attr("fill", "#000"));
  decKO.forEach((v, i) => svg.append("rect").attr("x", x(decT[i]) - 2.5).attr("y", y(v) - 2.5).attr("width", 5).attr("height", 5).attr("fill", "#f01c1c"));
  yAxis(337, y, [0, 0.25, 0.5, 0.75, 1], d => d === 0 ? "0" : d.toFixed(2), 12.5);
  const xa = svg.append("g").attr("transform", `translate(0,${y(0)})`)
    .call(d3.axisBottom(x).tickValues([0, 30, 60, 90, 120]).tickSize(3).tickSizeOuter(0));
  xa.attr("font-family", FONT).attr("font-size", 12.5);
  xa.selectAll("text").attr("fill", "#000"); xa.selectAll("line,path").attr("stroke", "#000");
  rich(svg, 402, 992, ["Time post ActD treatment (min)"], 12.5, "middle");
  vlabel(303, 910, [{t:"Tcf7", i:1}, " mRNA remaining"], 13);
  rich(svg, 377, 856, [{t:"y", i:1}, "=e", {t:"-0.3991x", sup:1}], 13);
  rich(svg, 377, 872, [{t:"R", i:1}, {t:"2", sup:1}, "=0.91"], 13);
  rich(svg, 342, 907, [{t:"y", i:1}, "=e", {t:"-0.6284x", sup:1}], 13, "start", "#f01c1c");
  rich(svg, 342, 922, [{t:"R", i:1}, {t:"2", sup:1}, "=0.99"], 13, "start", "#f01c1c");
  svg.append("circle").attr("cx", 344).attr("cy", 936).attr("r", 3).attr("fill", "#000");
  rich(svg, 350, 940.5, ["Ctrl,", {t:"t", i:1}, {t:"1/2", sub:1}, "=104 min"], 12.5);
  svg.append("rect").attr("x", 341).attr("y", 949).attr("width", 6).attr("height", 6).attr("fill", "#f01c1c");
  rich(svg, 350, 956, KO_ER.concat([",", {t:"t", i:1}, {t:"1/2", sub:1}, "=66 min"]), 12.5);
}

// ---------- m ----------
{
  letter("m", 523, 832);
  const y = d3.scaleLinear().domain([0, 1.5]).range([962, 864]);
  const r = dotBars({groups:mHours, series:["Ctrl","KO"], range:[588, 709], pi:0.18, po:0.15, y, mean:mMean, err:mErr, pts:mPts, colors:[RED, NAVY], r:2.5});
  yAxis(588, y, [0, 0.5, 1.0, 1.5], d => d === 0 ? "0" : d.toFixed(1), 12.5);
  hline(588, 709, y(0));
  mHours.forEach((h, gi) => {
    const cx = r.xo(h) + r.xo.bandwidth() / 2;
    svg.append("line").attr("x1", cx).attr("x2", cx).attr("y1", y(0)).attr("y2", y(0) + 3).attr("stroke", "#000");
    rich(svg, cx, 975, [h], 12.5, "middle");
    sig(r.centers[gi][0], r.centers[gi][1], y(mSigY[gi]), "<", "0.0001", 9);
  });
  rich(svg, 647, 992, ["Time post ActD treatment (h)"], 12.5, "middle");
  vlabel(558, 913, [{t:"Tcf7", i:1}, " mRNA (fold)"], 13);
  legendRect(588, 842, RED, ["Ctrl"], 13);
  legendRect(588, 853, NAVY, KO_ER, 13);
}
</script>
</body>
</html>
